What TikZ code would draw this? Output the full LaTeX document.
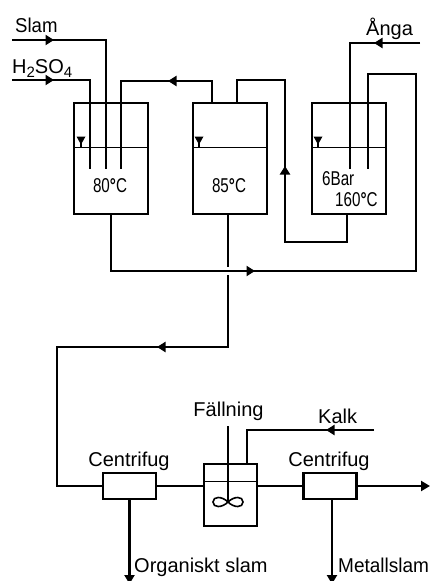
\documentclass[tikz,border=0pt]{standalone}
\usepackage{graphicx}
\usepackage{fontspec}
\setmainfont{Liberation Sans}
\usetikzlibrary{arrows.meta,decorations.markings}
\newcommand{\narrow}[1]{\scalebox{.76}[1]{#1}}
\tikzset{
  pipe/.style={line width=2.1pt,miter limit=10},
  flowat/.style={postaction={decorate},decoration={markings,mark=at position #1 with {\arrow{Triangle[length=8.5pt,width=10pt]}}}},
  flowend/.style={-{Triangle[length=9pt,width=10pt]}},
  vessel/.style={draw,line width=2.1pt,rectangle,inner sep=0pt,minimum width=74pt,minimum height=111pt},
  cent/.style={draw,line width=2.1pt,rectangle,inner sep=0pt,minimum width=53pt,minimum height=26pt},
  reactor/.style={draw,line width=2.1pt,rectangle,inner sep=0pt,minimum width=53pt,minimum height=62pt},
  level/.style={line width=1pt},
  lab/.style={anchor=base,inner sep=0pt,font=\fontsize{20}{24}\selectfont},
  levelmark/.pic={\fill (-4.5,-10.5) -- (4.5,-10.5) -- (0,-2.5) -- cycle; \draw[line width=1.2pt] (0,-8) -- (0,0);},
}
\begin{document}
\begin{tikzpicture}[x=1pt,y=-1pt]
\useasboundingbox (0,0) rectangle (430,581);
% vessels
\node[vessel] (t1) at (111,158.5) {};
\node[vessel] (t2) at (230,158.5) {};
\node[vessel] (t3) at (349,158.5) {};
\node[cent] (c1) at (129.5,486) {};
\node[reactor] (r) at (230.5,495) {};
\node[cent] (c2) at (330,486) {};
% level lines
\coordinate (l1a) at (74,147); \coordinate (l1b) at (148,147);
\coordinate (l2a) at (193,147); \coordinate (l2b) at (267,147);
\coordinate (l3a) at (312,147); \coordinate (l3b) at (386,147);
\coordinate (l4a) at (204,481); \coordinate (l4b) at (257,481);
\draw[level] (l1a) -- (l1b);
\draw[level] (l2a) -- (l2b);
\draw[level] (l3a) -- (l3b);
\draw[level] (l4a) -- (l4b);
\pic at (81,147) {levelmark};
\pic at (199,147) {levelmark};
\pic at (318,147) {levelmark};
% feed pipes
\coordinate (slamIn) at (12,40); \coordinate (slamEnd) at (106,169);
\coordinate (acidIn) at (12,80); \coordinate (acidEnd) at (90,169);
\draw[pipe,flowat=42pt] (slamIn) -| (slamEnd);
\draw[pipe,flowat=42pt] (acidIn) -| (acidEnd);
% tank 2 to tank 1
\coordinate (r1) at (212,103); \coordinate (r1end) at (121,169); \coordinate (r1top) at (212,81);
\draw[pipe,flowat=66pt] (r1) -- (r1top) -| (r1end);
% tank 3 to tank 2
\coordinate (r2a) at (347,214); \coordinate (r2b) at (347,242); \coordinate (r2c) at (285,242);
\coordinate (r2d) at (285,80); \coordinate (r2e) at (237,80); \coordinate (r2f) at (237,103);
\draw[pipe,flowat=166pt] (r2a) -- (r2b) -- (r2c) -- (r2d) -- (r2e) -- (r2f);
% steam
\coordinate (stIn) at (420,43); \coordinate (stEnd) at (350,169);
\draw[pipe,flowat=46pt] (stIn) -| (stEnd);
% loop tank 1 to tank 3
\coordinate (la) at (111,214); \coordinate (lb) at (111,271); \coordinate (lc) at (416,271);
\coordinate (ld) at (416,74); \coordinate (le) at (368,74); \coordinate (lf) at (368,169);
\draw[pipe,flowat=201pt] (la) -- (lb) -- (lc) -- (ld) -- (le) -- (lf);
% tank 2 outlet
\coordinate (oa) at (228,214); \coordinate (ob) at (228,267);
\coordinate (oc) at (228,275); \coordinate (od) at (228,347); \coordinate (oe) at (57,347);
\coordinate (of) at (57,486);
\draw[pipe] (oa) -- (ob);
\draw[pipe,flowat=143pt] (oc) -- (od) -- (oe) -- (of) -- (c1.west);
% lower train
\draw[pipe] (c1.east) -- (r.west |- c1.east);
\draw[pipe] (r.east |- c2.west) -- (c2.west);
\coordinate (out) at (430,486);
\draw[pipe,flowend] (c2.east) -- (out);
\coordinate (d1) at (129.5,584); \coordinate (d2) at (332,584);
\draw[pipe,flowend] (c1.south) -- (d1);
\draw[pipe,flowend] (d2 |- c2.south) -- (d2);
\coordinate (kIn) at (374,430); \coordinate (kEnd) at (247,464);
\draw[pipe,flowat=48pt] (kIn) -| (kEnd);
% agitator
\coordinate (sa) at (228,426); \coordinate (sb) at (228,502);
\draw[pipe] (sa) -- (sb);
\draw[line width=1.6pt] (sb) .. controls (222,496) and (213,496) .. (213,502)
  .. controls (213,508) and (222,508) .. (sb)
  .. controls (234,496) and (243,496) .. (243,502)
  .. controls (243,508) and (234,508) .. (sb);
% labels
\node[lab,anchor=base west] (tSlam) at (15,32) {\scalebox{.93}[1]{Slam}};
\node[lab,anchor=base west] (tAcid) at (12,73) {H\raisebox{-4pt}{\fontsize{15}{15}\selectfont 2}SO\raisebox{-4pt}{\fontsize{15}{15}\selectfont 4}};
\node[lab,anchor=base west] (tAnga) at (366,35) {Ånga};
\node[lab] (tT1) at (110,192) {\narrow{80\textbf{°}C}};
\node[lab] (tT2) at (229,192) {\narrow{85\textbf{°}C}};
\node[lab,anchor=base west] (tBar) at (322,185) {\narrow{6Bar}};
\node[lab,anchor=base west] (tT3) at (335,206) {\narrow{160\textbf{°}C}};
\node[lab] (tF) at (228.5,416) {Fällning};
\node[lab,anchor=base west] (tK) at (318,423) {Kalk};
\node[lab] (tC1) at (129,466) {Centrifug};
\node[lab] (tC2) at (329,466) {Centrifug};
\node[lab,anchor=base west] (tO) at (134,572) {Organiskt slam};
\node[lab,anchor=base west] (tM) at (338,572) {\scalebox{.95}[1]{Metallslam}};
\end{tikzpicture}
\end{document}
